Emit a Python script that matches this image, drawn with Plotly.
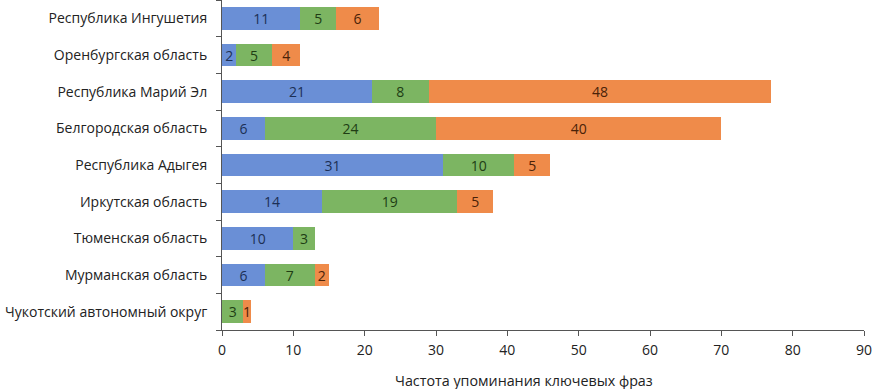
import plotly.graph_objects as go

categories = ["Республика Ингушетия", "Оренбургская область", "Республика Марий Эл",
              "Белгородская область", "Республика Адыгея", "Иркутская область",
              "Тюменская область", "Мурманская область", "Чукотский автономный округ"]
series1 = [11, 2, 21, 6, 31, 14, 10, 6, 0]
series2 = [5, 5, 8, 24, 10, 19, 3, 7, 3]
series3 = [6, 4, 48, 40, 5, 5, 0, 2, 1]
x_ticks = [0, 10, 20, 30, 40, 50, 60, 70, 80, 90]
x_title = "Частота упоминания ключевых фраз"

colors = ["#6a8fd6", "#7cb562", "#ef8b4a"]
text_colors = ["#1c2f55", "#203d14", "#4a2208"]

fig = go.Figure()
for vals, col, tcol in zip([series1, series2, series3], colors, text_colors):
    fig.add_trace(go.Bar(
        y=categories, x=vals, orientation="h",
        marker=dict(color=col, line=dict(width=0)),
        text=[str(v) if v else "" for v in vals],
        textposition="inside", insidetextanchor="middle", constraintext="none",
        textfont=dict(color=tcol, size=14, family="Open Sans"),
        textangle=0, cliponaxis=False, hoverinfo="skip",
    ))

fig.update_layout(
    barmode="stack", bargap=0.38, showlegend=False,
    width=872, height=389,
    margin=dict(l=222, r=8, t=0, b=59, autoexpand=False),
    plot_bgcolor="white", paper_bgcolor="white",
    font=dict(family="Open Sans", size=14, color="#222"),
)
fig.add_annotation(text=x_title, xref="paper", yref="paper", x=0.470, y=-0.1545,
                   xanchor="center", yanchor="middle", showarrow=False,
                   font=dict(size=14.3, color="#222"))
fig.update_xaxes(range=[0, 90], tickvals=x_ticks, showgrid=False, zeroline=False,
                 showline=True, linecolor="#555", linewidth=1, automargin=False,
                 ticks="outside", ticklen=5, tickcolor="#555",
                 tickfont=dict(size=14), ticklabelstandoff=2, ticklabeloverflow="allow")
fig.update_yaxes(categoryorder="array", categoryarray=categories[::-1],
                 showgrid=False, showline=True, linecolor="#555", linewidth=1,
                 automargin=False, ticklabeloverflow="allow",
                 ticks="outside", ticklen=5, tickcolor="#555", tickson="boundaries",
                 tickfont=dict(size=14), ticklabelstandoff=11)

fig.write_html("out.html", post_script="document.body.style.margin='0';",
               config={"displayModeBar": False})
